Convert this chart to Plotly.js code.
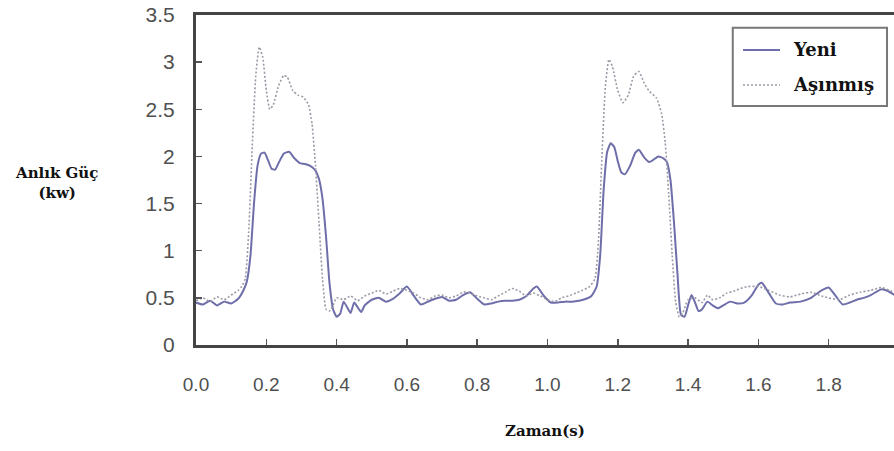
<!DOCTYPE html>
<html>
<head>
<meta charset="utf-8">
<script src="https://cdn.plot.ly/plotly-3.0.1.min.js"></script>
<style>html,body{margin:0;padding:0;background:#fff;}#chart{width:894px;height:451px;}</style>
</head>
<body>
<div id="chart"></div>
<script>
// Time (s) and instantaneous power (kW) - "Yeni" (new)
const yeniTime = [0.00,0.02,0.04,0.06,0.08,0.10,0.12,0.135,0.145,0.155,0.165,0.175,0.185,0.195,0.205,0.215,0.225,0.235,0.25,0.265,0.28,0.295,0.31,0.325,0.34,0.35,0.36,0.37,0.38,0.39,0.40,0.41,0.42,0.43,0.44,0.45,0.46,0.47,0.48,0.50,0.52,0.54,0.56,0.58,0.60,0.62,0.64,0.66,0.68,0.70,0.72,0.74,0.76,0.78,0.80,0.82,0.84,0.86,0.88,0.90,0.92,0.94,0.96,0.97,0.99,1.01,1.03,1.05,1.07,1.09,1.11,1.125,1.14,1.15,1.16,1.17,1.18,1.19,1.20,1.21,1.22,1.235,1.25,1.26,1.275,1.29,1.30,1.315,1.33,1.34,1.35,1.36,1.37,1.38,1.39,1.40,1.41,1.42,1.43,1.44,1.455,1.47,1.485,1.50,1.52,1.54,1.56,1.58,1.60,1.61,1.63,1.65,1.67,1.69,1.72,1.75,1.78,1.80,1.82,1.84,1.86,1.88,1.90,1.92,1.95,1.97,2.00];
const yeniPower = [0.45,0.43,0.47,0.42,0.46,0.44,0.49,0.58,0.68,0.95,1.50,1.90,2.03,2.04,1.96,1.87,1.86,1.93,2.03,2.05,1.98,1.93,1.92,1.90,1.85,1.76,1.55,1.15,0.65,0.38,0.30,0.33,0.46,0.40,0.34,0.45,0.40,0.35,0.42,0.48,0.50,0.46,0.49,0.55,0.62,0.52,0.43,0.46,0.49,0.51,0.47,0.48,0.53,0.56,0.49,0.43,0.44,0.46,0.47,0.47,0.48,0.52,0.60,0.62,0.52,0.45,0.45,0.46,0.46,0.47,0.49,0.52,0.62,0.95,1.65,2.05,2.14,2.10,1.95,1.83,1.81,1.90,2.04,2.07,1.99,1.94,1.96,2.00,1.98,1.94,1.75,1.30,0.75,0.32,0.30,0.42,0.53,0.45,0.36,0.38,0.46,0.42,0.39,0.42,0.46,0.44,0.45,0.52,0.64,0.66,0.55,0.44,0.43,0.45,0.46,0.50,0.58,0.61,0.52,0.43,0.45,0.48,0.50,0.53,0.59,0.57,0.50];

// "Aşınmış" (worn)
const asinmisTime = [0.00,0.02,0.04,0.06,0.08,0.10,0.12,0.13,0.14,0.15,0.16,0.17,0.18,0.19,0.20,0.21,0.22,0.235,0.25,0.26,0.275,0.29,0.305,0.32,0.33,0.34,0.35,0.36,0.37,0.38,0.39,0.40,0.42,0.44,0.46,0.48,0.50,0.52,0.54,0.56,0.58,0.60,0.62,0.64,0.66,0.68,0.70,0.72,0.74,0.76,0.78,0.80,0.82,0.84,0.86,0.88,0.90,0.92,0.94,0.96,0.98,1.00,1.02,1.04,1.06,1.08,1.10,1.12,1.135,1.145,1.155,1.165,1.175,1.185,1.20,1.215,1.23,1.245,1.26,1.275,1.29,1.31,1.325,1.335,1.345,1.355,1.365,1.375,1.385,1.40,1.42,1.44,1.455,1.47,1.49,1.51,1.53,1.55,1.57,1.60,1.63,1.66,1.69,1.72,1.75,1.78,1.80,1.83,1.86,1.89,1.92,1.95,1.98,2.00];
const asinmisPower = [0.47,0.50,0.46,0.51,0.48,0.53,0.58,0.62,0.70,1.20,2.10,2.85,3.16,3.05,2.70,2.50,2.55,2.75,2.86,2.84,2.70,2.65,2.63,2.55,2.35,1.90,1.30,0.70,0.38,0.36,0.42,0.50,0.48,0.52,0.47,0.52,0.55,0.58,0.54,0.57,0.60,0.58,0.55,0.50,0.48,0.52,0.53,0.50,0.52,0.56,0.55,0.52,0.50,0.48,0.52,0.56,0.60,0.57,0.52,0.55,0.52,0.48,0.46,0.50,0.52,0.55,0.58,0.62,0.70,1.10,2.00,2.75,3.03,2.95,2.70,2.57,2.65,2.85,2.90,2.78,2.69,2.62,2.45,2.15,1.60,0.95,0.45,0.30,0.34,0.48,0.50,0.45,0.53,0.48,0.50,0.55,0.57,0.60,0.62,0.62,0.58,0.53,0.51,0.54,0.56,0.52,0.50,0.48,0.53,0.56,0.58,0.61,0.57,0.55];

const seriesNames = ['Yeni', 'Aşınmış'];
const xTickVals = [0,0.2,0.4,0.6,0.8,1.0,1.2,1.4,1.6,1.8];
const xTickText = ['0.0','0.2','0.4','0.6','0.8','1.0','1.2','1.4','1.6','1.8'];
const yTickVals = [0,0.5,1,1.5,2,2.5,3,3.5];
const yTickText = ['0','0.5','1','1.5','2','2.5','3','3.5'];

const yeniColor = '#6e6eaa';
const asinmisColor = '#9a9aa6';

const traces = [
  {x: yeniTime, y: yeniPower, name: seriesNames[0], type: 'scatter', mode: 'lines',
   line: {color: yeniColor, width: 2, shape: 'spline', smoothing: 0.5}},
  {x: asinmisTime, y: asinmisPower, name: seriesNames[1], type: 'scatter', mode: 'lines',
   line: {color: asinmisColor, width: 1.6, dash: '2px,2px', shape: 'spline', smoothing: 0.5}}
];

const serif = 'DejaVu Serif';
const sans = 'Liberation Sans, Arial, sans-serif';

// legend box drawn in paper coordinates
const lg = {x0: 0.769, x1: 0.990, y0: 0.724, y1: 0.961,
            s0: 0.7837, s1: 0.8367, tx: 0.853, row1: 0.894, row2: 0.788};

const layout = {
  width: 894, height: 451,
  margin: {l: 196, r: 0, t: 15, b: 106},
  paper_bgcolor: '#fff', plot_bgcolor: '#fff',
  showlegend: false,
  xaxis: {range: [0, 1.986], tickvals: xTickVals, ticktext: xTickText,
    showgrid: false, zeroline: false, showline: true, linecolor: '#444', linewidth: 3,
    mirror: true, ticks: 'inside', ticklen: 6, tickwidth: 1.5, tickcolor: '#555',
    ticklabelstandoff: 20,
    tickfont: {family: sans, size: 19, color: '#505050'}},
  yaxis: {range: [0, 3.5], tickvals: yTickVals, ticktext: yTickText,
    showgrid: false, zeroline: false, showline: true, linecolor: '#444', linewidth: 3,
    ticks: 'inside', ticklen: 6, tickwidth: 1.5, tickcolor: '#555',
    ticklabelstandoff: 14,
    tickfont: {family: sans, size: 21, color: '#505050'}},
  shapes: [
    {type: 'rect', xref: 'paper', yref: 'paper', x0: lg.x0, x1: lg.x1, y0: lg.y0, y1: lg.y1,
     line: {color: '#777', width: 2}, fillcolor: '#fff', layer: 'above'},
    {type: 'line', xref: 'paper', yref: 'paper', x0: lg.s0, x1: lg.s1, y0: lg.row1, y1: lg.row1,
     line: {color: yeniColor, width: 2}, layer: 'above'},
    {type: 'line', xref: 'paper', yref: 'paper', x0: lg.s0, x1: lg.s1, y0: lg.row2, y1: lg.row2,
     line: {color: asinmisColor, width: 1.6, dash: '2px,2px'}, layer: 'above'}
  ],
  annotations: [
    {text: '<b>' + seriesNames[0] + '</b>', xref: 'paper', yref: 'paper', x: lg.tx, y: lg.row1,
     xanchor: 'left', yanchor: 'middle', showarrow: false,
     font: {family: serif, size: 18, color: '#111'}},
    {text: '<b>' + seriesNames[1] + '</b>', xref: 'paper', yref: 'paper', x: lg.tx, y: lg.row2,
     xanchor: 'left', yanchor: 'middle', showarrow: false,
     font: {family: serif, size: 18, color: '#111'}},
    {text: '<b>Zaman(s)</b>', xref: 'paper', yref: 'paper', x: 0.5, y: -0.26,
     xanchor: 'center', yanchor: 'middle', showarrow: false,
     font: {family: serif, size: 15, color: '#111'}},
    {text: '<b>Anlık Güç</b><br><b>(kw)</b>', xref: 'paper', yref: 'paper', x: -0.20, y: 0.49,
     xanchor: 'center', yanchor: 'middle', showarrow: false,
     font: {family: serif, size: 15, color: '#111'}}
  ]
};

Plotly.newPlot('chart', traces, layout, {displayModeBar: false, staticPlot: true});
</script>
</body>
</html>
